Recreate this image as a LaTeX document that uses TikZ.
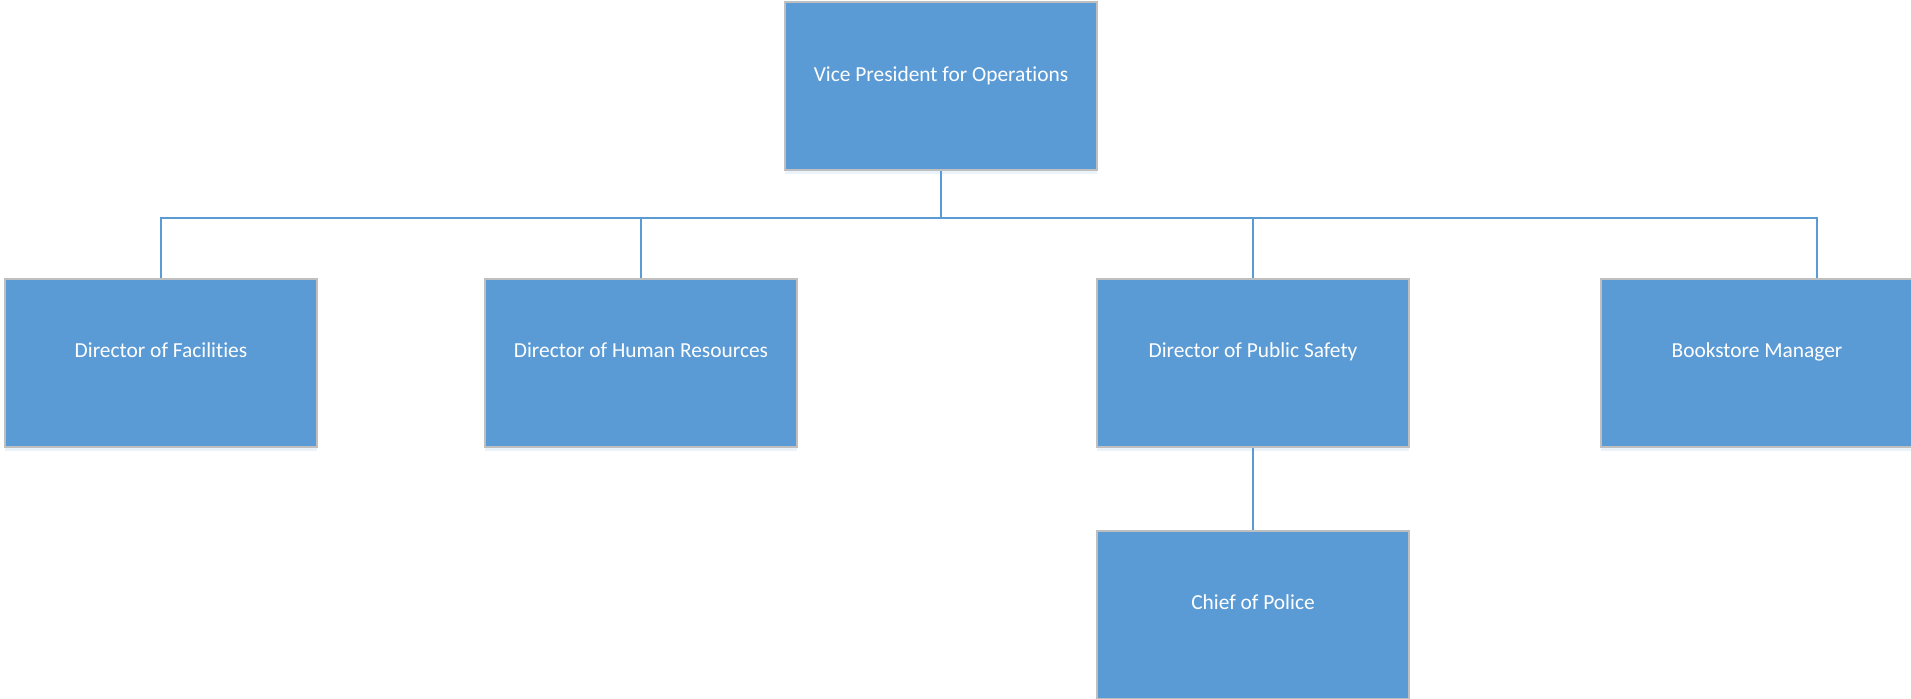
\documentclass[tikz,border=0pt]{standalone}
\usepackage{fontspec}
\setmainfont{Carlito}[Ligatures=NoCommon]
\usetikzlibrary{shadows}
\definecolor{boxblue}{HTML}{5B9BD5}
\definecolor{boxgray}{HTML}{BFBFBF}
\begin{document}
\begin{tikzpicture}[x=0.5pt,y=-0.5pt,
  orgbox/.style={draw=boxgray, line width=1pt, fill=boxblue,
    minimum width=156pt, minimum height=84pt, inner sep=0pt,
    text=white, font=\fontsize{10.7}{13}\selectfont,
    text height=4pt, text depth=9pt,
    drop shadow={shadow xshift=0pt, shadow yshift=-2pt, fill=boxblue, opacity=0.12}},
  link/.style={draw=boxblue, line width=1pt}]
\useasboundingbox (0,0) rectangle (1911,699);
\node[orgbox] (vp) at (941,86.5) {Vice President for Operations};
\node[orgbox] (fac) at (161,363) {Director of Facilities};
\node[orgbox] (hr) at (641,363) {Director of Human Resources};
\node[orgbox] (ps) at (1253,363) {Director of Public Safety};
\node[orgbox] (bm) at (1757,363) {Bookstore Manager};
\node[orgbox] (cp) at (1253,615) {Chief of Police};
\coordinate (bus) at (941,218.5);
\coordinate (bmtap) at (1817,218.5);
\draw[link] (vp.south) -- (bus);
\draw[link] (fac.north) |- (bmtap) -- (bmtap |- bm.north);
\draw[link] (hr.north) -- (hr.north |- bus);
\draw[link] (ps.north) -- (ps.north |- bus);
\draw[link] (ps.south) -- (cp.north);
\end{tikzpicture}
\end{document}
